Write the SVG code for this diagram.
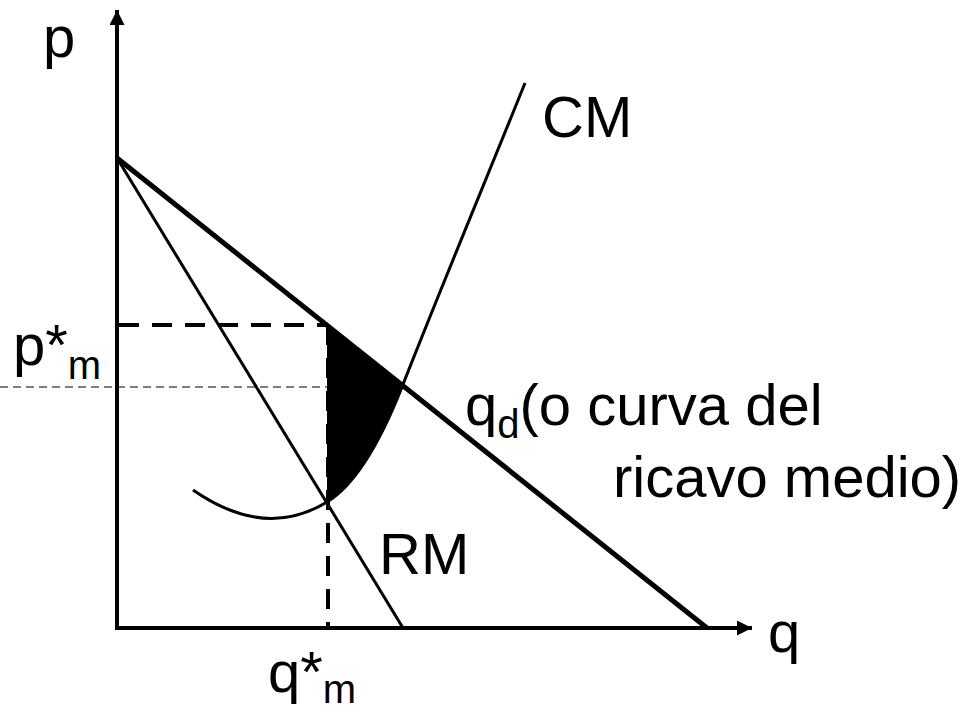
<svg xmlns="http://www.w3.org/2000/svg" width="978" height="712" viewBox="0 0 978 712">
<style>
text{font-family:"Liberation Sans",Arial,sans-serif;font-size:58px;fill:#000}
.sub{font-size:40px}
.ln{fill:none;stroke:#000;stroke-linecap:butt}
</style>
<defs>
<marker id="ah" markerWidth="16" markerHeight="16" refX="15" refY="7.5" orient="auto" markerUnits="userSpaceOnUse">
<path d="M0,0 L15,7.5 L0,15 Z" fill="#000"/>
</marker>
</defs>
<rect width="978" height="712" fill="#fff"/>
<g id="shaded">
<path d="M327,325 L402,387 C385,430 360,482 327,502 Z" fill="#000"/>
</g>
<g id="connectors">
<line class="ln" x1="117" y1="630" x2="117" y2="10" stroke-width="4" marker-end="url(#ah)"/>
<line class="ln" x1="115" y1="628" x2="752" y2="628" stroke-width="4" marker-end="url(#ah)"/>
<line class="ln" x1="117" y1="158" x2="707" y2="628" stroke-width="5"/>
<line class="ln" x1="117" y1="158" x2="403" y2="628" stroke-width="3"/>
<path class="ln" d="M193,490 Q265,540 327,502 C360,482 385,430 402,387 C440,290 490,170 525,83" stroke-width="3"/>
<line class="ln" x1="119" y1="325" x2="327" y2="325" stroke-width="4" stroke-dasharray="20,13"/>
<line class="ln" x1="328" y1="325" x2="328" y2="628" stroke-width="4" stroke-dasharray="20,13"/>
<line class="ln" x1="0" y1="387" x2="327" y2="387" stroke="#333" stroke-width="1" stroke-dasharray="8,5"/>
</g>
<g id="labels">
<text x="43" y="57">p</text>
<text x="542" y="137">CM</text>
<text x="13" y="365">p*<tspan class="sub" dy="14">m</tspan></text>
<text x="268" y="692">q*<tspan class="sub" dy="11">m</tspan></text>
<text x="465" y="425">q<tspan class="sub" dy="13">d</tspan><tspan dy="-13">(o curva del</tspan></text>
<text x="613" y="497">ricavo medio)</text>
<text x="379" y="574">RM</text>
<text x="768" y="652">q</text>
</g>
</svg>
